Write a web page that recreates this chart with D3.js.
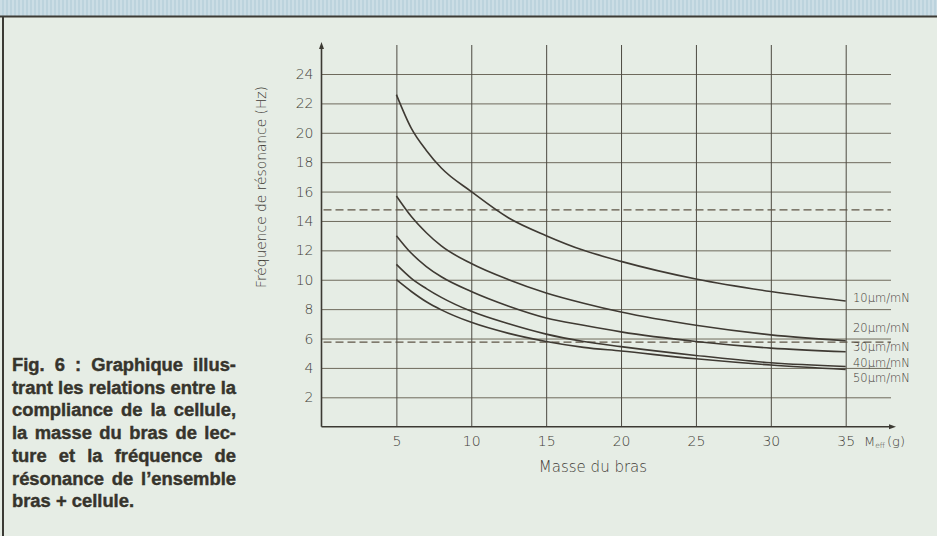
<!DOCTYPE html>
<html>
<head>
<meta charset="utf-8">
<script src="https://cdn.jsdelivr.net/npm/d3@7"></script>
<style>
  body { margin: 0; background: #e6ede5; }
  svg { display: block; }
  .tick text { font-family: 'DejaVu Sans', sans-serif; font-weight: 200; fill: #423e38; }
</style>
</head>
<body>
<svg id="chart" width="937" height="536"></svg>
<script>
const masses = [5, 6, 7, 8, 10, 12.5, 15, 17.5, 20, 25, 30, 35];

// resonance frequency (Hz) for each compliance
const f10 = [22.6, 20.3, 18.8, 17.6, 16.0, 14.2, 13.0, 12.0, 11.25, 10.05, 9.2, 8.55];
const f20 = [15.7, 14.3, 13.2, 12.3, 11.1, 10.0, 9.1, 8.4, 7.8, 6.9, 6.25, 5.85];
const f30 = [13.0, 11.8, 10.9, 10.2, 9.2, 8.2, 7.4, 6.9, 6.45, 5.8, 5.35, 5.1];
const f40 = [11.05, 10.1, 9.4, 8.8, 7.85, 7.0, 6.3, 5.8, 5.45, 4.85, 4.35, 4.1];
const f50 = [10.0, 9.2, 8.5, 7.95, 7.1, 6.35, 5.8, 5.4, 5.15, 4.62, 4.2, 3.9];

const seriesNames = ['10µm/mN', '20µm/mN', '30µm/mN', '40µm/mN', '50µm/mN'];
const seriesValues = [f10, f20, f30, f40, f50];
// where each label sits (Hz), spread out next to the curve ends
const labelAt = [8.75, 6.75, 5.4, 4.35, 3.3];

// dashed reference levels (Hz)
const dashedLevels = [14.75, 5.75];

const xTicks = [5, 10, 15, 20, 25, 30, 35];
const yTicks = [2, 4, 6, 8, 10, 12, 14, 16, 18, 20, 22, 24];

const caption = [
  'Fig. 6 : Graphique illus-',
  'trant les relations entre la',
  'compliance de la cellule,',
  'la masse du bras de lec-',
  'ture et la fréquence de',
  'résonance de l\u2019ensemble',
  'bras + cellule.'
];

const svg = d3.select('#chart');
const lightFont = "'DejaVu Sans', sans-serif";

// page decoration: blue band on top, frame lines
const band = svg.append('defs').append('pattern')
  .attr('id', 'band').attr('width', 4).attr('height', 4).attr('patternUnits', 'userSpaceOnUse');
band.append('rect').attr('width', 4).attr('height', 4).attr('fill', '#bcd3dd');
band.append('rect').attr('width', 2).attr('height', 4).attr('fill', '#cbdde5');
svg.append('rect').attr('x', 0).attr('y', 0).attr('width', 937).attr('height', 16).attr('fill', 'url(#band)');
svg.append('line').attr('x1', 0).attr('x2', 937).attr('y1', 16.5).attr('y2', 16.5)
  .attr('stroke', '#3c3b35').attr('stroke-width', 2);
svg.append('line').attr('x1', 3).attr('x2', 3).attr('y1', 16).attr('y2', 536)
  .attr('stroke', '#3c3b35').attr('stroke-width', 2);

const x0 = 321.5, gridRight = 891, y0 = 426.7, gridTop = 45;

const x = d3.scaleLinear().domain([0, 35]).range([x0, 845.7]);
const y = d3.scaleLinear().domain([0, 24]).range([y0, 74]);

// horizontal grid + y labels
const yAxis = d3.axisLeft(y).tickValues(yTicks).tickSize(-(gridRight - x0)).tickPadding(8);
const gy = svg.append('g').attr('transform', `translate(${x0},0)`).call(yAxis);
gy.select('.domain').remove();
gy.selectAll('line').attr('stroke', '#6e6a5c').attr('stroke-width', 1);
gy.selectAll('text').attr('font-size', 14);

// vertical grid + x labels
const xAxis = d3.axisBottom(x).tickValues(xTicks).tickSize(-(y0 - gridTop)).tickPadding(9);
const gx = svg.append('g').attr('transform', `translate(0,${y0})`).call(xAxis);
gx.select('.domain').remove();
gx.selectAll('line').attr('stroke', '#4d4a42').attr('stroke-width', 1);
gx.selectAll('text').attr('font-size', 14);

// dashed levels
svg.selectAll('.dash')
  .data(dashedLevels)
  .join('line')
  .attr('class', 'dash')
  .attr('x1', x0 + 2).attr('x2', gridRight)
  .attr('y1', d => y(d)).attr('y2', d => y(d))
  .attr('stroke', '#5e5446').attr('stroke-width', 1.3)
  .attr('stroke-dasharray', '8,4');

// main axes with arrows
svg.append('line').attr('x1', x0).attr('x2', x0).attr('y1', y0).attr('y2', 46)
  .attr('stroke', '#3c3a33').attr('stroke-width', 1.6);
svg.append('path').attr('d', `M${x0 - 2.5},49 L${x0},42 L${x0 + 2.5},49 Z`).attr('fill', '#3c3a33');
svg.append('line').attr('x1', x0).attr('x2', 891).attr('y1', y0).attr('y2', y0)
  .attr('stroke', '#3c3a33').attr('stroke-width', 1.6);
svg.append('path').attr('d', `M889,${y0 - 2.5} L896,${y0} L889,${y0 + 2.5} Z`).attr('fill', '#3c3a33');

// curves
const line = d3.line()
  .x((d, i) => x(masses[i]))
  .y(d => y(d))
  .curve(d3.curveMonotoneX);

svg.selectAll('.curve')
  .data(seriesValues)
  .join('path')
  .attr('class', 'curve')
  .attr('d', line)
  .attr('fill', 'none')
  .attr('stroke', '#3f3a33')
  .attr('stroke-width', 1.6);

// curve labels
svg.selectAll('.clabel')
  .data(seriesNames)
  .join('text')
  .attr('class', 'clabel')
  .attr('x', 853)
  .attr('y', (d, i) => y(labelAt[i]))
  .attr('dy', '0.35em')
  .attr('font-family', lightFont)
  .attr('font-weight', 200)
  .attr('font-size', 11.5)
  .attr('fill', '#3f3b36')
  .text(d => d);

// axis titles
const meff = svg.append('text')
  .attr('x', 864).attr('y', 446)
  .attr('font-family', lightFont)
  .attr('font-weight', 200).attr('font-size', 13).attr('fill', '#423e38');
meff.append('tspan').text('M');
meff.append('tspan').attr('font-size', 7.5).attr('dy', 2).text('eff');
meff.append('tspan').attr('dy', -2).attr('dx', 2).text('(g)');

svg.append('text')
  .attr('x', 593).attr('y', 472)
  .attr('text-anchor', 'middle')
  .attr('font-family', lightFont)
  .attr('font-weight', 200).attr('font-size', 15).attr('fill', '#3f3b36')
  .text('Masse du bras');

svg.append('text')
  .attr('transform', 'translate(266,187) rotate(-90)')
  .attr('text-anchor', 'middle')
  .attr('font-family', lightFont)
  .attr('font-weight', 200).attr('font-size', 13.8).attr('fill', '#3f3b36')
  .text('Fréquence de résonance (Hz)');

// caption: bold, justified by word spacing except the last line
const stretch = 1.05;
const capWidth = 224 / stretch;
svg.selectAll('.cap')
  .data(caption)
  .join('text')
  .attr('class', 'cap')
  .attr('transform', (d, i) => `translate(12,${371 + i * 22.7}) scale(${stretch},1)`)
  .attr('font-family', "'Liberation Sans', Arial, sans-serif")
  .attr('font-weight', 'bold')
  .attr('font-size', 17.5)
  .attr('fill', '#36342c')
  .attr('stroke', '#36342c')
  .attr('stroke-width', 0.4)
  .text(d => d)
  .each(function(d, i) {
    const natural = this.getComputedTextLength();
    if (natural > capWidth) {
      d3.select(this).attr('textLength', capWidth).attr('lengthAdjust', 'spacingAndGlyphs');
      return;
    }
    if (i === caption.length - 1) return;
    const gaps = d.split(' ').length - 1;
    d3.select(this).attr('word-spacing', (capWidth - natural) / gaps);
  });
</script>
</body>
</html>
